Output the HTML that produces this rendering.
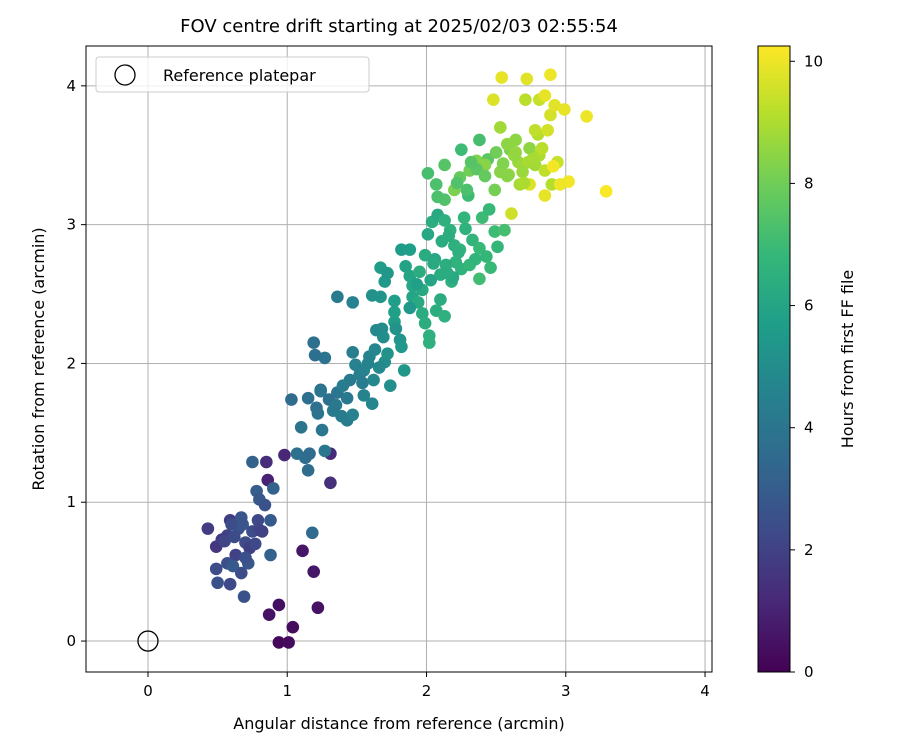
<!DOCTYPE html>
<html><head><meta charset="utf-8"><style>
body{margin:0;background:#fff}
svg text{font-family:"DejaVu Sans","Liberation Sans",sans-serif;fill:#000}
</style></head><body>
<svg id="chart" width="900" height="750" xmlns="http://www.w3.org/2000/svg">
<defs><linearGradient id="viridis" x1="0" y1="1" x2="0" y2="0"></linearGradient></defs>
<text x="399" y="32" font-size="18" text-anchor="middle">FOV centre drift starting at 2025/02/03 02:55:54</text>
<g id="grid"></g>
<g id="points"></g>
<rect x="86" y="46" width="626" height="626" fill="none" stroke="#000" stroke-width="1"/>
<g id="axes"></g>
<text x="399" y="729" font-size="16" text-anchor="middle">Angular distance from reference (arcmin)</text>
<text transform="translate(44,359) rotate(-90)" font-size="16" text-anchor="middle">Rotation from reference (arcmin)</text>
<g>
<rect x="96" y="57" width="273" height="35" rx="3" fill="#fff" fill-opacity="0.8" stroke="#ccc"/>
<circle cx="125" cy="75" r="10" fill="none" stroke="#000" stroke-width="1.3"/>
<text x="163" y="81" font-size="16">Reference platepar</text>
</g>
<g id="cbar"></g>
<text transform="translate(853,359) rotate(-90)" font-size="16" text-anchor="middle">Hours from first FF file</text>
</svg>
<script>
const xValues=[0.94,1.01,1.04,0.94,0.87,1.11,1.19,1.22,1.31,1.31,0.98,0.85,0.86,
0.43,0.49,0.49,0.50,0.59,0.69,0.57,0.59,0.67,0.75,0.79,0.88,0.88,0.80,0.70,0.63,0.57,0.72,0.73,0.65,0.53,0.75,0.78,0.80,0.90,0.84,0.82,0.67,0.61,1.18,
1.03,1.19,1.20,1.27,1.10,1.07,1.13,1.15,1.22,1.24,1.25,1.27,1.30,1.33,1.39,1.43,1.36,1.15,1.21,1.45,1.47,1.49,1.52,1.43,1.47,1.54,1.55,1.61,1.59,1.64,1.68,1.69,1.36,1.47,1.62,1.74,1.70,1.84,1.72,1.81,1.77,1.82,
1.61,1.67,1.70,1.67,1.72,1.77,1.77,1.82,1.88,1.85,1.88,1.90,1.90,1.94,1.97,1.99,2.02,2.02,2.07,2.13,2.10,1.97,1.95,1.99,2.01,2.04,2.08,2.13,2.17,2.20,2.24,2.21,2.14,2.10,2.18,2.25,2.31,2.33,2.38,2.40,2.43,2.46,2.38,2.51,2.49,2.56,2.45,2.27,2.30,2.13,2.08,2.13,2.01,2.07,2.25,2.38,2.44,
2.20,2.24,2.31,2.36,2.42,2.49,2.53,2.53,2.59,2.60,2.64,2.66,2.73,2.74,2.78,2.80,2.61,2.67,2.71,2.81,2.78,2.87,2.81,2.85,2.90,2.94,2.89,
2.54,2.72,2.48,2.89,2.85,2.92,2.99,3.15,3.29,3.02,2.96,2.85,2.74,2.91,
0.55,0.62,0.70,0.77,0.60,0.68,1.16,1.24,1.35,1.40,1.55,1.58,1.63,1.66,1.78,1.88,1.93,2.03,2.06,2.11,2.16,2.19,2.23,2.28,2.35,2.05,2.15,2.29,2.36,2.42,2.50,2.55,2.58,2.63,2.69,2.76,2.83,2.70,2.64,2.58,2.32,2.22];
const yValues=[-0.01,-0.01,0.10,0.26,0.19,0.65,0.50,0.24,1.14,1.35,1.34,1.29,1.16,
0.81,0.68,0.52,0.42,0.41,0.32,0.76,0.87,0.89,0.79,0.87,0.87,0.62,0.80,0.71,0.62,0.56,0.56,0.67,0.81,0.73,1.29,1.08,1.02,1.10,0.98,0.79,0.49,0.54,0.78,
1.74,2.15,2.06,2.04,1.54,1.35,1.32,1.23,1.64,1.81,1.52,1.37,1.74,1.66,1.62,1.75,1.79,1.75,1.68,1.88,2.08,1.99,1.92,1.59,1.63,1.86,1.77,1.71,2.05,2.24,2.25,2.19,2.48,2.44,1.88,1.84,2.01,1.95,2.07,2.17,2.30,2.12,
2.49,2.48,2.59,2.69,2.65,2.45,2.37,2.82,2.82,2.70,2.63,2.56,2.48,2.44,2.36,2.29,2.20,2.15,2.38,2.34,2.46,2.53,2.66,2.78,2.93,3.02,3.07,3.03,2.96,2.85,2.82,2.73,2.71,2.64,2.59,2.68,2.71,2.89,2.83,3.05,2.77,2.69,2.61,2.84,2.95,2.96,3.11,3.05,3.21,3.18,3.20,3.43,3.37,3.29,3.54,3.61,3.47,
3.25,3.34,3.39,3.46,3.43,3.25,3.70,3.38,3.36,3.54,3.61,3.45,3.45,3.55,3.43,3.65,3.08,3.29,3.90,3.90,3.68,3.68,3.50,3.39,3.29,3.45,3.79,
4.06,4.05,3.90,4.08,3.93,3.86,3.83,3.78,3.24,3.31,3.29,3.21,3.29,3.42,
0.72,0.75,0.60,0.70,0.84,0.84,1.35,1.80,1.70,1.84,1.95,2.00,2.10,1.97,2.25,2.40,2.57,2.60,2.75,2.88,2.92,2.62,2.80,2.97,2.75,2.72,2.65,3.25,3.40,3.35,3.52,3.44,3.58,3.50,3.38,3.47,3.55,3.30,3.52,3.35,3.45,3.30];
const hourValues=[0.2,0.3,0.3,0.4,0.5,0.6,0.6,0.5,1.4,1.2,1.1,1.3,1.0,
1.8,1.6,2.4,2.6,2.2,2.6,2.0,1.8,2.7,2.4,2.2,2.9,3.2,2.1,2.3,2.0,2.5,2.8,1.9,2.6,1.7,3.2,3.0,2.8,3.2,2.6,2.0,2.4,2.9,3.5,
3.6,3.8,3.7,3.9,3.9,3.8,3.7,3.6,3.9,3.8,4.0,4.1,3.8,4.2,4.3,4.1,4.0,3.7,3.8,4.2,4.4,4.5,4.4,4.3,4.5,4.4,4.6,4.7,4.6,4.8,4.9,5.0,4.2,4.5,4.8,5.1,5.0,5.4,5.2,5.3,5.6,5.5,
5.2,5.3,5.5,5.6,5.4,5.7,5.8,5.6,5.7,5.9,6.0,6.1,6.0,6.2,6.3,6.4,6.5,6.5,6.4,6.5,6.3,6.2,6.4,6.3,6.1,6.4,6.2,6.5,6.6,6.5,6.7,6.6,6.4,6.3,6.5,6.6,6.8,6.7,6.9,7.0,6.8,6.9,7.1,6.8,7.0,7.2,6.9,6.7,7.0,7.4,7.3,7.5,7.2,7.3,7.0,7.2,7.6,
8.2,7.8,8.0,8.3,8.4,8.1,8.8,8.4,8.6,8.2,8.5,8.7,8.9,8.5,8.8,9.1,9.5,8.9,9.2,9.4,9.3,9.6,9.0,9.3,9.1,9.4,9.6,
9.9,9.8,9.7,10.0,9.9,9.8,9.9,10.0,10.2,10.1,10.0,9.9,9.7,10.1,
2.1,2.3,2.5,2.2,2.4,2.7,3.6,4.0,4.1,4.3,4.5,4.6,4.7,4.8,5.2,5.5,5.8,6.0,6.1,6.3,6.4,6.2,6.5,6.6,6.7,6.2,6.3,7.3,7.6,7.8,8.0,8.3,8.5,8.6,8.7,8.9,9.2,9.0,8.6,8.4,7.5,7.4];
const xTicks=[0,1,2,3,4];
const yTicks=[0,1,2,3,4];
const cTicks=[0,2,4,6,8,10];

const NS="http://www.w3.org/2000/svg";
const X0=86,X1=712,Y0=46,Y1=672,XMIN=-0.445,XMAX=4.05,YMIN=-0.223,YMAX=4.287,CMAX=10.25;
function sx(v){return X0+(v-XMIN)/(XMAX-XMIN)*(X1-X0);}
function sy(v){return Y1-(v-YMIN)/(YMAX-YMIN)*(Y1-Y0);}
function sc(v){return Y1-v/CMAX*(Y1-Y0);}
const vir=[[68,1,84],[72,40,120],[62,74,137],[49,104,142],[38,130,142],[31,158,137],[53,183,121],[109,205,89],[180,222,44],[253,231,37]];
function cmap(h){let t=Math.max(0,Math.min(1,h/CMAX))*(vir.length-1);let i=Math.min(vir.length-2,Math.floor(t));let f=t-i;
const c=vir[i].map((a,k)=>Math.round(a+(vir[i+1][k]-a)*f));return `rgb(${c[0]},${c[1]},${c[2]})`;}
function mk(tag,attrs,parent){const e=document.createElementNS(NS,tag);for(const k in attrs)e.setAttribute(k,attrs[k]);parent.appendChild(e);return e;}
const grid=document.getElementById('grid'),axes=document.getElementById('axes'),pts=document.getElementById('points'),cbar=document.getElementById('cbar');
xTicks.forEach(t=>{const x=sx(t);
const g=mk('line',{x1:x,x2:x,y1:Y0,y2:Y1,stroke:'#b0b0b0','stroke-width':1},grid);


const tk=mk('line',{x1:x,x2:x,y1:Y1,y2:Y1+5,stroke:'#000'},axes);


const tx=mk('text',{x:x,y:Y1+24,'font-size':15,'text-anchor':'middle'},axes);tx.textContent=t;

});
yTicks.forEach(t=>{const y=sy(t);
const g=mk('line',{x1:X0,x2:X1,y1:y,y2:y,stroke:'#b0b0b0','stroke-width':1},grid);


const tk=mk('line',{x1:X0-5,x2:X0,y1:y,y2:y,stroke:'#000'},axes);


const tx=mk('text',{x:X0-10,y:y+5,'font-size':15,'text-anchor':'end'},axes);tx.textContent=t;

});
xValues.forEach((xv,i)=>{const c=mk('circle',{cx:sx(xv),cy:sy(yValues[i]),r:6.3,fill:cmap(hourValues[i])},pts);

});
const ref=mk('circle',{cx:sx(0),cy:sy(0),r:10,fill:'none',stroke:'#000','stroke-width':1.3},pts);


const grad=document.getElementById('viridis');
vir.forEach((c,i)=>{mk('stop',{offset:(i/(vir.length-1)*100)+'%','stop-color':`rgb(${c})`},grad);});
const cb=mk('rect',{x:758,y:Y0,width:32,height:Y1-Y0,fill:'url(#viridis)',stroke:'#000','stroke-width':1},cbar);


cTicks.forEach(t=>{const y=sc(t);
const tk=mk('line',{x1:790,x2:795,y1:y,y2:y,stroke:'#000'},cbar);


const tx=mk('text',{x:804,y:y+5,'font-size':15},cbar);tx.textContent=t;

});
</script>
</body></html>
